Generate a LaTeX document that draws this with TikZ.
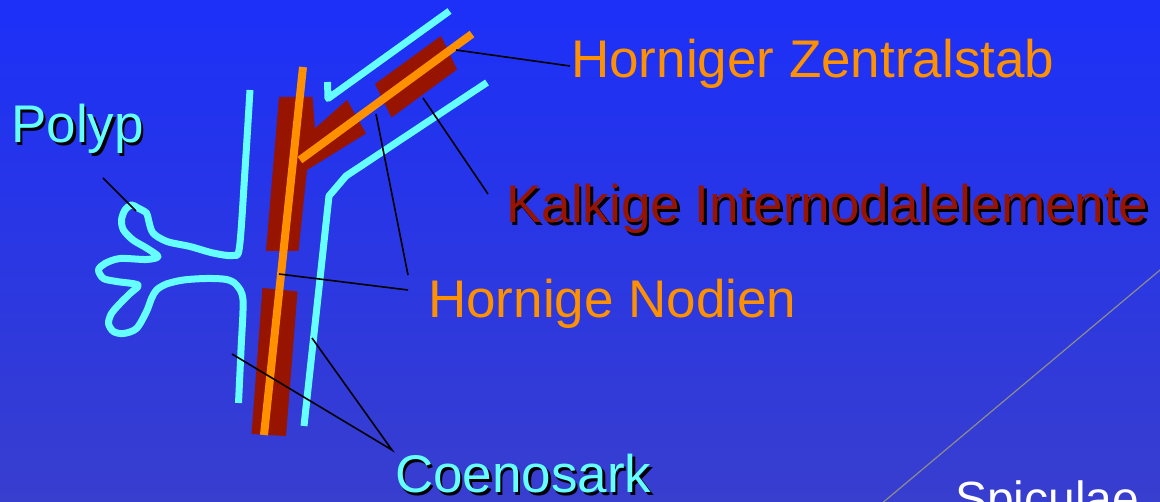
\documentclass[tikz,border=0pt]{standalone}
\usepackage{fontspec}
\setmainfont{Liberation Sans}

\definecolor{bgtop}{RGB}{28,48,248}
\definecolor{bgbot}{RGB}{56,62,206}
\definecolor{tissue}{RGB}{102,255,255}
\definecolor{horn}{RGB}{255,145,0}
\definecolor{lime}{RGB}{150,20,0}
\definecolor{guide}{RGB}{140,140,140}

% text with a small black drop shadow
\newcommand{\dropshadow}[2]{\rlap{\hspace{2.5pt}\raisebox{-2.5pt}{\color{black}#2}}{\color{#1}#2}}

\tikzset{
  tissueline/.style={draw=tissue, line width=7pt, line join=round},
  hornline/.style={draw=horn, line width=8pt},
  calcpart/.style={fill=lime, draw=none},
  leader/.style={draw=black, line width=1.6pt},
  label/.style={anchor=base west, inner sep=0pt, font=\fontsize{53}{60}\selectfont}
}

\begin{document}
\begin{tikzpicture}[x=1pt, y=-1pt]
  \useasboundingbox (0,0) rectangle (1160,502);
  \clip (0,0) rectangle (1160,502);
  \shade[top color=bgtop, bottom color=bgbot] (0,0) rectangle (1160,502);

  % diagonal guide line at the lower right
  \coordinate (g1) at (1172,260);
  \coordinate (g2) at (868,515);
  \draw[guide, line width=1.2pt] (g1) -- (g2);

  % calcareous internodal elements
  \path[calcpart] (279,97) -- (312.5,97) -- (315,128.5) -- (347,100) -- (366,133.5)
        -- (307,170) -- (298.5,251) -- (266,251) -- cycle;
  \path[calcpart] (375,84) -- (441,36) -- (457,69.5) -- (391.5,117.5) -- cycle;
  \path[calcpart] (262.5,288) -- (297.5,291.5) -- (286,436) -- (251.5,434) -- cycle;

  % horny central axis
  \coordinate (stemTop) at (303,67);
  \coordinate (stemBot) at (264,435);
  \coordinate (fork) at (300,160);
  \coordinate (branchTop) at (472,34);
  \draw[hornline] (stemBot) -- (stemTop);
  \draw[hornline] (fork) -- (branchTop);

  % coenosarc outline with polyp
  \draw[tissueline] (327.5,82) -- (328,98.5) -- (449.5,11);
  \draw[tissueline] (487,82.5) -- (346,176) -- (329,196) -- (304,426);
  \draw[tissueline] plot[smooth, tension=0.5] coordinates {
    (250,90) (245,170) (239.5,247) (233,255.5) (213,253) (190,246.5) (167,241.5)
    (153,233) (148.5,220) (146.5,213) (138,208) (131.5,205) (125,210) (121.5,220)
    (123.5,230) (133,240) (146.5,248) (158,256.5) (146.5,259.5) (120,258.5)
    (105,263.5) (98.5,270) (103.5,278.5) (116.5,281.5) (138,285) (130,293.5)
    (120,303.5) (111.5,313.5) (108.5,323.5) (113.5,331.5) (123.5,333.5)
    (136.5,328.5) (146.5,311.5) (151.5,298.5) (156.5,290) (166.5,284) (183.5,280)
    (206.5,278.5) (226.5,279.5) (236.5,285) (243,300) (241,350) (238.5,403)};

  % labels
  \node[label] (polyp) at (11,143) {\dropshadow{tissue}{Polyp}};
  \node[label, text=horn] (zentral) at (571,78) {Horniger Zentralstab};
  \node[label] (kalk) at (506,223) {\dropshadow{lime}{Kalkige Internodalelemente}};
  \node[label, text=horn] (nodien) at (428,318) {Hornige Nodien};
  \node[label] (coeno) at (395,493) {\dropshadow{tissue}{Coenosark}};
  \node[label, text=white, font=\fontsize{48}{56}\selectfont] (spic) at (955,515) {Spiculae};

  % leader lines
  \coordinate (polypEnd) at (103,178);
  \coordinate (polypTip) at (136,211);
  \coordinate (zentralEnd) at (570,66);
  \coordinate (zentralTip) at (456,50);
  \coordinate (kalkEnd) at (488,194);
  \coordinate (kalkTip) at (423,98);
  \coordinate (nodEndA) at (408,275);
  \coordinate (nodEndB) at (408,290);
  \coordinate (nodTipA) at (376,114);
  \coordinate (nodTipB) at (279,274);
  \coordinate (coenoEnd) at (392,450);
  \coordinate (coenoTipA) at (232,354);
  \coordinate (coenoTipB) at (312,338);
  \draw[leader] (polypEnd) -- (polypTip);
  \draw[leader] (zentralEnd) -- (zentralTip);
  \draw[leader] (kalkEnd) -- (kalkTip);
  \draw[leader] (nodEndA) -- (nodTipA);
  \draw[leader] (nodEndB) -- (nodTipB);
  \draw[leader] (coenoTipA) -- (coenoEnd) -- (coenoTipB);
\end{tikzpicture}
\end{document}
